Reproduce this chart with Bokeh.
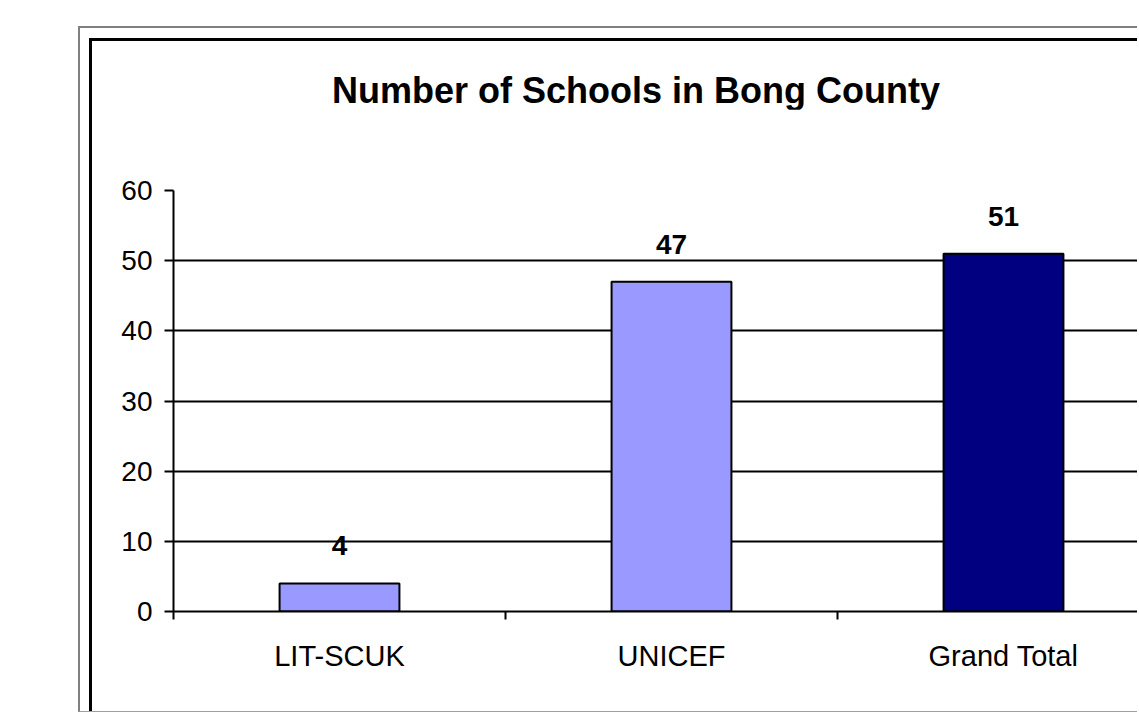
from bokeh.plotting import figure
from bokeh.models import Range1d, FixedTicker, LabelSet, ColumnDataSource, Div
from bokeh.layouts import column
from bokeh.core.properties import value
from bokeh.embed import file_html
from bokeh.resources import INLINE

# ---- data ----
categories = ["LIT-SCUK", "UNICEF", "Grand Total"]
values = [4, 47, 51]
bar_colors = ["#9999FF", "#9999FF", "#000080"]
y_ticks = [0, 10, 20, 30, 40, 50, 60]
title_text = "Number of Schools in Bong County"

FONT = "Liberation Sans"

positions = [i + 0.5 for i in range(len(categories))]
boundaries = list(range(len(categories)))
labels = [str(v) for v in values]

src = ColumnDataSource(dict(x=positions, top=values, color=bar_colors, label=labels))

title_div = Div(text=title_text, width=700, height=36, margin=(32, 0, 0, 240),
                styles={"font-family": FONT, "font-size": "36px", "font-weight": "bold",
                        "color": "#000000", "line-height": "36px", "white-space": "nowrap"})

p = figure(width=1045, height=602,
           x_range=Range1d(0, 2.9036), y_range=Range1d(0, 60),
           output_backend="svg", toolbar_location=None,
           min_border_left=81, min_border_top=81, min_border_bottom=100, min_border_right=0,
           margin=(0, 0, 0, 0))
p.title.visible = False

p.outline_line_color = None
p.background_fill_color = "white"
p.border_fill_color = "white"

# x axis
p.xaxis.ticker = FixedTicker(ticks=positions, minor_ticks=boundaries)
p.xaxis.major_label_overrides = {pos: cat for pos, cat in zip(positions, categories)}
p.xaxis.major_tick_line_color = None
p.xaxis.major_tick_out = 0
p.xaxis.major_tick_in = 0
p.xaxis.minor_tick_in = 0
p.xaxis.minor_tick_out = 8
p.xaxis.minor_tick_line_color = "black"
p.xaxis.minor_tick_line_width = 2
p.xaxis.axis_line_color = "black"
p.xaxis.axis_line_width = 2
p.xaxis.major_label_standoff = 20
p.xaxis.major_label_text_font = FONT
p.xaxis.major_label_text_font_size = "29px"
p.xaxis.major_label_text_color = "black"

# y axis
p.yaxis.ticker = FixedTicker(ticks=y_ticks)
p.yaxis.major_tick_in = 0
p.yaxis.major_tick_out = 9
p.yaxis.major_tick_line_width = 2
p.yaxis.major_tick_line_color = "black"
p.yaxis.minor_tick_line_color = None
p.yaxis.axis_line_color = "black"
p.yaxis.axis_line_width = 2
p.yaxis.major_label_standoff = 12
p.yaxis.major_label_text_font = FONT
p.yaxis.major_label_text_font_size = "28px"
p.yaxis.major_label_text_color = "black"

p.xgrid.visible = False
p.ygrid.ticker = FixedTicker(ticks=y_ticks)
p.ygrid.grid_line_color = "black"
p.ygrid.grid_line_width = 2

p.vbar(x="x", top="top", bottom=0, width=0.361, fill_color="color",
       line_color="black", line_width=2, source=src)

p.add_layout(LabelSet(x="x", y="top", text="label", source=src, y_offset=28,
                      text_align="center", text_baseline="alphabetic",
                      text_font=value(FONT), text_font_size="28px",
                      text_font_style="bold", text_color="black"))

inner = column(title_div, p, spacing=0,
               styles={"border-left": "3px solid #000000", "border-top": "3px solid #000000",
                       "background-color": "white"})

outer = column(inner, margin=(26, 0, 0, 78), spacing=0,
               styles={"border-left": "2px solid #808080", "border-top": "2px solid #808080",
                       "border-bottom": "1px solid #a0a0a0",
                       "padding": "10px 0 0 9px"})

open("out.html", "w").write(file_html(outer, INLINE))
